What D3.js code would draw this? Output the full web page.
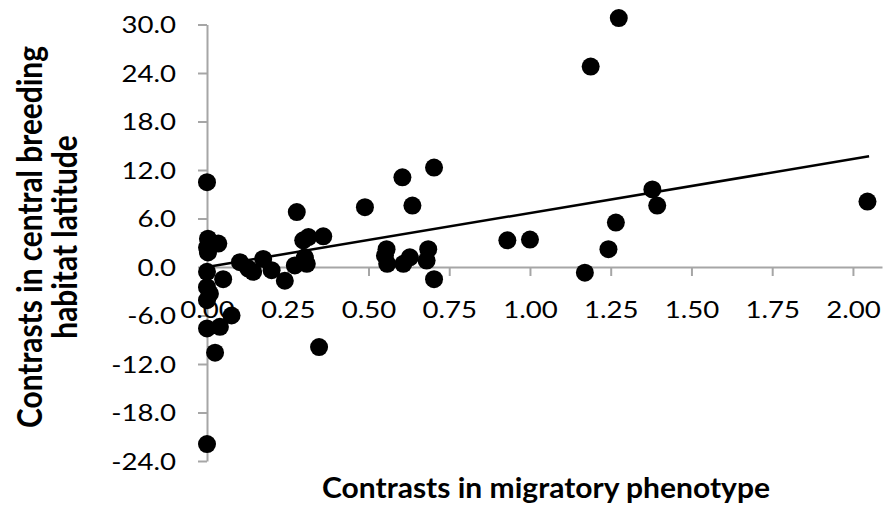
<!DOCTYPE html>
<html><head><meta charset="utf-8">
<script src="https://cdn.jsdelivr.net/npm/d3@7"></script>
<style>body{margin:0;background:#fff}svg{display:block}text{font-family:Lato,"Open Sans",sans-serif}</style>
</head><body>
<svg id="c" width="886" height="508"></svg>
<script>
const xValues = [1.275,1.188,2.045,1.379,1.394,1.266,1.243,1.170,0.930,1.000,
  0.703,0.605,0.636,0.489,0.278,0.360,0.314,0.298,0.556,0.551,
  0.558,0.608,0.628,0.685,0.680,0.703,0.000,0.003,0.000,0.035,
  0.003,0.102,0.128,0.143,0.174,0.200,0.241,0.272,0.303,0.309,
  0.000,0.050,0.000,0.009,0.000,0.076,0.000,0.040,0.025,0.347,0.000];
const yValues = [30.8,24.8,8.1,9.6,7.6,5.5,2.2,-0.7,3.3,3.4,
  12.3,11.1,7.6,7.4,6.8,3.8,3.7,3.3,2.2,1.4,
  0.4,0.4,1.2,2.2,0.8,-1.5,10.5,3.5,2.4,2.9,
  1.8,0.6,-0.2,-0.6,1.0,-0.4,-1.7,0.2,1.2,0.4,
  -0.6,-1.5,-2.5,-3.3,-4.1,-6.0,-7.6,-7.4,-10.6,-9.9,-21.9];
const xTicks = [0,0.25,0.5,0.75,1.0,1.25,1.5,1.75,2.0];
const yTicks = [-24,-18,-12,-6,0,6,12,18,24,30];
const trendSlope = 6.68, trendIntercept = 0.0;
const trendX = [0, 2.05];
const xTitle = "Contrasts in migratory phenotype";
const yTitleLines = ["Contrasts in central breeding","habitat latitude"];

const svg = d3.select("#c");
const x = d3.scaleLinear().domain([0, 2.09]).range([207, 882]);
const y = d3.scaleLinear().domain([-24, 30]).range([461, 24.5]);
const axisColor = "#a6a6a6";
const stretch = 1.2;

// y axis
const ya = svg.append("g").attr("transform", `translate(${x(0)},0)`)
  .call(d3.axisLeft(y).tickValues(yTicks).tickSize(9).tickSizeOuter(0).tickFormat(d => d.toFixed(1)));
ya.select(".domain").attr("stroke", axisColor).attr("stroke-width", 2);
ya.selectAll(".tick line").attr("stroke", axisColor).attr("stroke-width", 2);
ya.selectAll(".tick text").attr("font-size", 23).attr("fill", "#000")
  .attr("x", -31/stretch).attr("dy", "0.36em").attr("transform", `scale(${stretch},1)`);

// x axis
const xa = svg.append("g").attr("transform", `translate(0,${y(0)})`)
  .call(d3.axisBottom(x).tickValues(xTicks).tickSize(9).tickSizeOuter(0).tickFormat(d => d.toFixed(2)));
xa.select(".domain").attr("stroke", axisColor).attr("stroke-width", 2);
xa.selectAll(".tick line").attr("stroke", axisColor).attr("stroke-width", 2);
xa.selectAll(".tick text").attr("font-size", 23).attr("fill", "#000")
  .attr("y", 51.5).attr("dy", 0).attr("transform", `scale(${stretch},1)`);

// points
const pts = xValues.map((v,i)=>[v, yValues[i]]);
svg.append("g").selectAll("circle").data(pts).join("circle")
  .attr("cx", d=>x(d[0])).attr("cy", d=>y(d[1])).attr("r", 9).attr("fill", "#000");

// trend line
svg.append("line")
  .attr("x1", x(trendX[0])).attr("y1", y(trendIntercept + trendSlope*trendX[0]))
  .attr("x2", x(trendX[1])).attr("y2", y(trendIntercept + trendSlope*trendX[1]))
  .attr("stroke", "#000").attr("stroke-width", 2.5);

// titles
svg.append("text").attr("x", 546).attr("y", 498).attr("text-anchor","middle")
  .attr("font-size", 28).attr("font-weight","bold")
  .attr("textLength", 448).attr("lengthAdjust","spacingAndGlyphs").text(xTitle);

const ytg = svg.append("g");
const yt = ytg.append("text").attr("text-anchor","middle").attr("font-size",35).attr("font-weight","bold");
yTitleLines.forEach((t,i)=>yt.append("tspan").attr("x",0).attr("y", i===0 ? 42 : 77).text(t));
const natural = yt.select("tspan").node().getComputedTextLength();
const sx = 382 / natural;
ytg.attr("transform", `translate(0,237) rotate(-90) scale(${sx},1)`);
</script>
</body></html>
